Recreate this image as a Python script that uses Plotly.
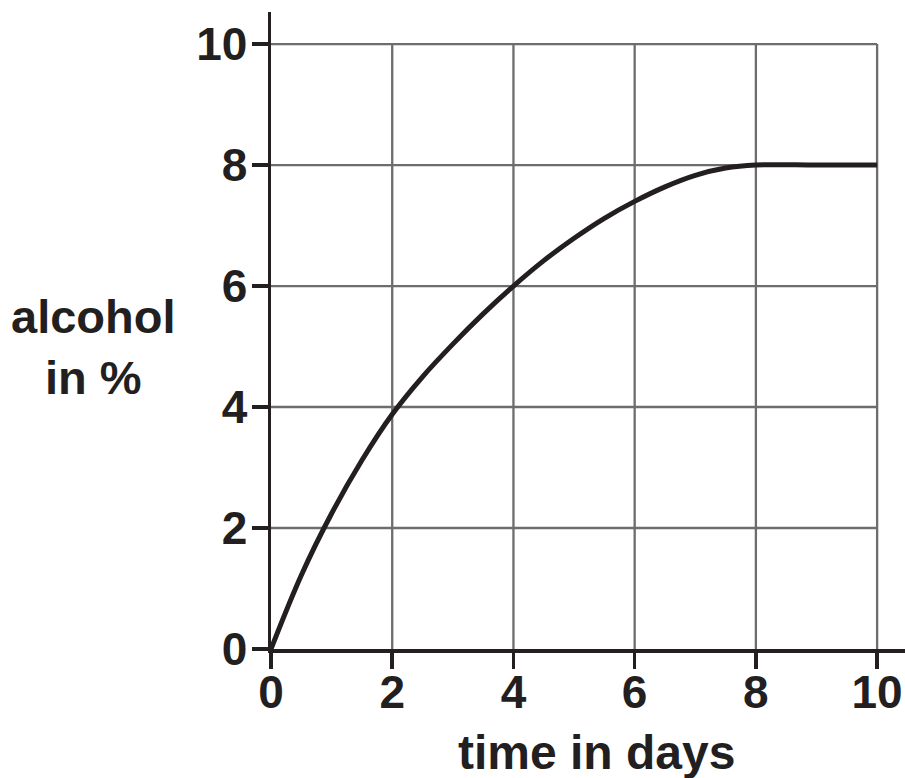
import plotly.graph_objects as go

# Data
days = [0, 0.5, 1, 1.5, 2, 2.5, 3, 3.5, 4, 4.5, 5, 5.5, 6, 6.5, 7, 7.5, 8, 9, 10]
alcohol = [0, 1.22, 2.24, 3.12, 3.88, 4.5, 5.04, 5.54, 6.0, 6.42, 6.79, 7.12, 7.4, 7.64, 7.83, 7.95, 8.0, 8.0, 8.0]
x_ticks = [0, 2, 4, 6, 8, 10]
y_ticks = [0, 2, 4, 6, 8, 10]
x_title = "time in days"
y_title = "alcohol<br>in %"

INK = "#231f20"
GRID = "#6d6d6d"
FONT = "Liberation Sans"

fig = go.Figure()
fig.add_trace(go.Scatter(x=days, y=alcohol, mode="lines",
                         line=dict(color=INK, width=5, shape="spline", smoothing=1.0),
                         hoverinfo="skip"))

shapes = []
for t in x_ticks[1:]:
    shapes.append(dict(type="line", xref="x", yref="y", x0=t, x1=t, y0=0, y1=max(y_ticks),
                       line=dict(color=GRID, width=2.3), layer="below"))
for t in y_ticks[1:]:
    shapes.append(dict(type="line", xref="x", yref="y", x0=0, x1=max(x_ticks), y0=t, y1=t,
                       line=dict(color=GRID, width=2.3), layer="below"))

tickfont = dict(family=FONT, size=46, color=INK, weight="bold")

fig.update_layout(
    width=905, height=778,
    margin=dict(l=271, r=0, t=12, b=129, autoexpand=False),
    paper_bgcolor="white", plot_bgcolor="white",
    showlegend=False,
    hovermode=False,
    shapes=shapes,
    xaxis=dict(range=[0, 10.46], tickvals=x_ticks, showgrid=False, zeroline=False,
               showline=True, linecolor=INK, linewidth=3.5, automargin=False,
               ticks="outside", ticklen=16, tickwidth=3.5, tickcolor=INK,
               tickfont=tickfont, ticklabelstandoff=-16, fixedrange=True),
    yaxis=dict(range=[0, 10.53], tickvals=y_ticks, showgrid=False, zeroline=False,
               showline=True, linecolor=INK, linewidth=3.5, automargin=False,
               ticks="outside", ticklen=16, tickwidth=3.5, tickcolor=INK,
               tickfont=tickfont, ticklabelstandoff=-5, fixedrange=True),
    annotations=[
        dict(text=x_title, xref="paper", yref="paper", x=0.513, y=0,
             xanchor="center", yanchor="top", yshift=-75, showarrow=False,
             font=dict(family=FONT, size=48, color=INK, weight="bold")),
        dict(text=y_title, xref="paper", yref="y", x=0, y=5.0,
             xanchor="center", yanchor="middle", xshift=-178, showarrow=False,
             font=dict(family=FONT, size=47, color=INK, weight="bold")),
    ],
)

# remove the default 8px body margin so the 905x778 figure fills the window exactly
fig.write_html("out.html", config={"displayModeBar": False, "staticPlot": True},
               post_script="document.body.style.margin='0';document.body.style.overflow='hidden';")
